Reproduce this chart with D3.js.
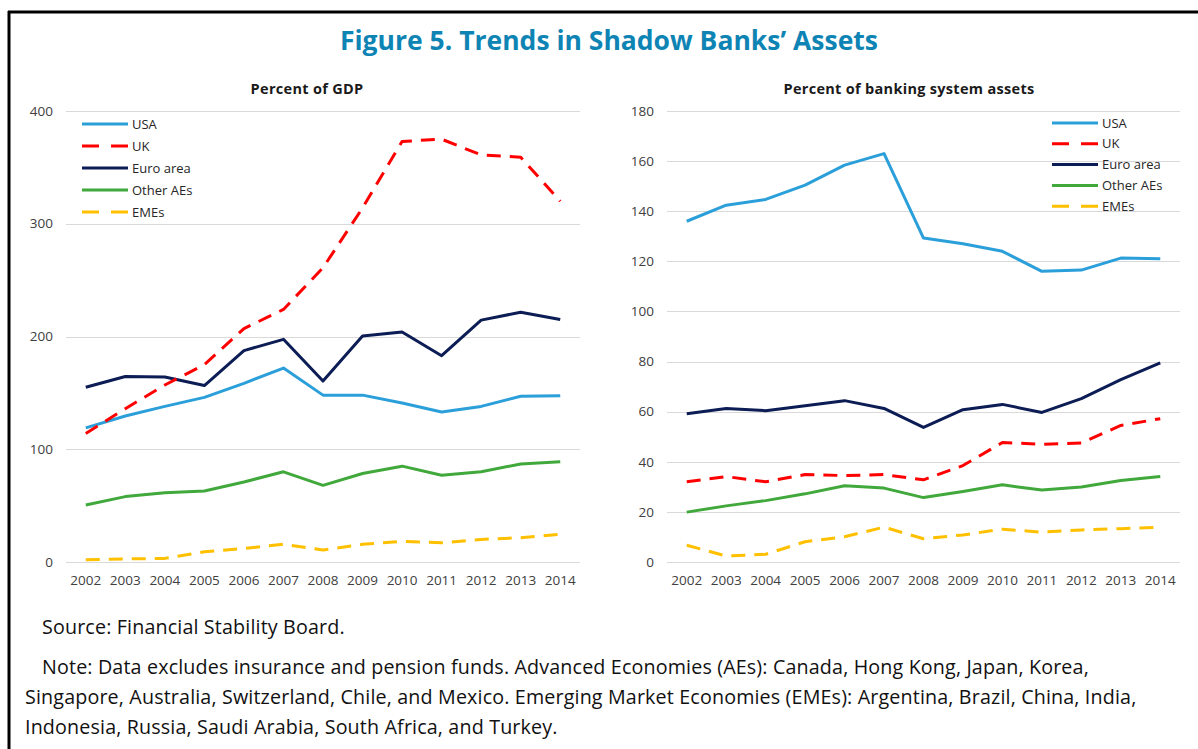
<!DOCTYPE html>
<html lang="en">
<head>
<meta charset="UTF-8">
<script src="https://d3js.org/d3.v7.min.js"></script>
<style>
  body { margin: 0; background: #fff; }
  .tick-label { font: 13.5px "Open Sans", sans-serif; fill: #404040; }
  .panel-title { font: bold 14.5px "Open Sans", sans-serif; fill: #1a1a1a; letter-spacing: 0.3px; }
  .legend-text { font: 13px "Open Sans", sans-serif; fill: #262626; }
  .note { font: 19.7px "Open Sans", sans-serif; fill: #111; letter-spacing: 0.15px; }
  .grid { stroke: #d9d9d9; stroke-width: 1; shape-rendering: crispEdges; }
  .series { fill: none; stroke-width: 3; stroke-linejoin: round; }
</style>
</head>
<body>
<script>
// categories
var years = ["2002", "2003", "2004", "2005", "2006", "2007", "2008",
             "2009", "2010", "2011", "2012", "2013", "2014"];

// series names
var seriesNames = ["USA", "UK", "Euro area", "Other AEs", "EMEs"];

// percent of GDP
var gdpUSA   = [119, 129.5, 138, 146, 158.5, 172, 148, 148, 141, 133, 138, 147, 147.5];
var gdpUK    = [114, 136, 157, 175, 207, 224, 261, 314, 373, 375, 361, 359, 320];
var gdpEuro  = [155, 164.5, 164, 156.5, 187.5, 197.5, 160.5, 200.5, 204, 183, 214.5, 221.5, 215];
var gdpOther = [50.5, 58, 61.5, 63, 71, 80, 68, 78.5, 85, 77, 80, 87, 89];
var gdpEMEs  = [2, 2.7, 3.2, 9, 12, 15.7, 10.6, 15.7, 18.3, 17, 20, 21.6, 24.5];

// percent of banking system assets
var bankUSA   = [136, 142.4, 144.7, 150.4, 158.4, 163, 129.3, 127, 124, 116, 116.5, 121.3, 121];
var bankUK    = [32, 34.1, 32, 34.9, 34.5, 34.9, 32.8, 38.5, 47.7, 47, 47.5, 54.5, 57.2];
var bankEuro  = [59.2, 61.3, 60.4, 62.4, 64.4, 61.3, 53.7, 60.8, 62.9, 59.7, 65.2, 72.8, 79.5];
var bankOther = [19.9, 22.4, 24.5, 27.2, 30.4, 29.5, 25.7, 28.1, 30.8, 28.7, 29.9, 32.5, 34.1];
var bankEMEs  = [6.7, 2.4, 3.1, 8.1, 10.1, 13.9, 9.3, 10.8, 13.1, 11.9, 12.8, 13.3, 13.9];

// tick labels
var gdpTicks  = [0, 100, 200, 300, 400];
var bankTicks = [0, 20, 40, 60, 80, 100, 120, 140, 160, 180];

// text
var mainTitle = "Figure 5. Trends in Shadow Banks\u2019 Assets";
var noteLines = [
  "Source: Financial Stability Board.",
  "Note: Data excludes insurance and pension funds. Advanced Economies (AEs): Canada, Hong Kong, Japan, Korea,",
  "Singapore, Australia, Switzerland, Chile, and Mexico. Emerging Market Economies (EMEs): Argentina, Brazil, China, India,",
  "Indonesia, Russia, Saudi Arabia, South Africa, and Turkey."
];

// series styling
var colors = { "USA": "#2b9fd9", "UK": "#ff0000", "Euro area": "#0c1c54", "Other AEs": "#41a83c", "EMEs": "#ffc000" };
var dashes = { "USA": null, "UK": "14,9", "Euro area": null, "Other AEs": null, "EMEs": "14,9" };

var svg = d3.select("body").append("svg")
  .attr("width", 1198)
  .attr("height", 749);

svg.append("rect").attr("width", 1198).attr("height", 749).attr("fill", "#fff");

// frame lines (top and left)
svg.append("line").attr("x1", 8).attr("x2", 1198).attr("y1", 12).attr("y2", 12)
  .attr("stroke", "#000").attr("stroke-width", 3);
svg.append("line").attr("x1", 9).attr("x2", 9).attr("y1", 11).attr("y2", 749)
  .attr("stroke", "#000").attr("stroke-width", 3);

svg.append("text")
  .attr("x", 609).attr("y", 50)
  .attr("text-anchor", "middle")
  .style("font", "bold 26.5px 'Open Sans', sans-serif")
  .style("fill", "#0e84b4")
  .text(mainTitle);

function drawPanel(opts) {
  var x = d3.scalePoint().domain(years).range([opts.left, opts.right]).padding(0.5);
  var y = d3.scaleLinear().domain([0, opts.max]).range([562, 111]);
  var g = svg.append("g");

  // gridlines
  g.selectAll("line.grid").data(opts.ticks).enter().append("line")
    .attr("class", "grid")
    .attr("x1", opts.left).attr("x2", opts.right)
    .attr("y1", function(d) { return Math.round(y(d)) + 0.5; })
    .attr("y2", function(d) { return Math.round(y(d)) + 0.5; });

  // y labels
  g.selectAll("text.ylab").data(opts.ticks).enter().append("text")
    .attr("class", "tick-label")
    .attr("x", opts.left - 13)
    .attr("y", function(d) { return y(d); })
    .attr("dy", "0.35em")
    .attr("text-anchor", "end")
    .text(function(d) { return d; });

  // x labels
  g.selectAll("text.xlab").data(years).enter().append("text")
    .attr("class", "tick-label")
    .attr("x", function(d) { return x(d); })
    .attr("y", 585)
    .attr("text-anchor", "middle")
    .text(function(d) { return d; });

  // title
  g.append("text")
    .attr("class", "panel-title")
    .attr("x", opts.titleX).attr("y", 94)
    .attr("text-anchor", "middle")
    .text(opts.title);

  var line = d3.line()
    .x(function(d, i) { return x(years[i]); })
    .y(function(d) { return y(d); });

  // draw back to front
  var order = ["EMEs", "Other AEs", "USA", "Euro area", "UK"];
  order.forEach(function(name) {
    g.append("path")
      .datum(opts.data[name])
      .attr("class", "series")
      .attr("stroke", colors[name])
      .attr("stroke-dasharray", dashes[name])
      .attr("d", line);
  });

  // legend
  var lg = g.append("g");
  seriesNames.forEach(function(name, i) {
    var yy = opts.legY + i * opts.legStep;
    lg.append("line")
      .attr("x1", opts.legX).attr("x2", opts.legX + 46)
      .attr("y1", yy).attr("y2", yy)
      .attr("stroke", colors[name]).attr("stroke-width", 3)
      .attr("stroke-dasharray", dashes[name] ? "17,12" : null);
    lg.append("text")
      .attr("class", "legend-text")
      .attr("x", opts.legX + 50).attr("y", yy)
      .attr("dy", "0.35em")
      .text(name);
  });
}

drawPanel({
  left: 66, right: 580, max: 400, ticks: gdpTicks,
  title: "Percent of GDP", titleX: 307,
  legX: 82, legY: 124, legStep: 22,
  data: { "USA": gdpUSA, "UK": gdpUK, "Euro area": gdpEuro, "Other AEs": gdpOther, "EMEs": gdpEMEs }
});

drawPanel({
  left: 667, right: 1180, max: 180, ticks: bankTicks,
  title: "Percent of banking system assets", titleX: 909,
  legX: 1052, legY: 123, legStep: 20.8,
  data: { "USA": bankUSA, "UK": bankUK, "Euro area": bankEuro, "Other AEs": bankOther, "EMEs": bankEMEs }
});

// source and notes
var noteX = [42, 42, 25, 25];
var noteY = [634, 674, 704, 734];
svg.selectAll("text.note").data(noteLines).enter().append("text")
  .attr("class", "note")
  .attr("x", function(d, i) { return noteX[i]; })
  .attr("y", function(d, i) { return noteY[i]; })
  .text(function(d) { return d; });
</script>
</body>
</html>
